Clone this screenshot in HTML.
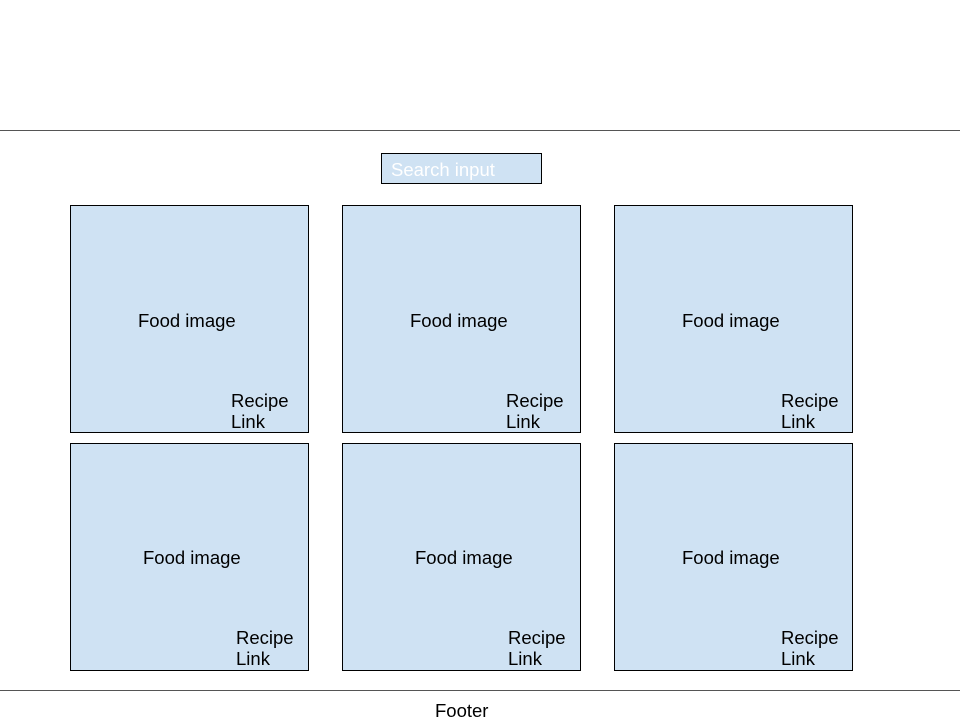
<!DOCTYPE html>
<html><head><meta charset="utf-8"><style>
body{margin:0;width:960px;height:720px;background:#fff;position:relative;overflow:hidden;font-family:"Liberation Sans",Arial,sans-serif;}
.abs{position:absolute;}
.hr{position:absolute;left:0;width:960px;height:1px;background:#555;}
.card{position:absolute;width:237px;height:226px;background:#cfe2f3;border:1px solid #000;}
.t{position:absolute;font-size:18.5px;color:#000;line-height:21px;white-space:nowrap;}
</style></head><body>
<div class="hr" style="top:130px"></div>
<div class="abs" style="left:381px;top:153px;width:159px;height:29px;background:#cfe2f3;border:1px solid #000;">
<span class="t" style="left:9px;top:5px;color:#fff;">Search input</span></div>

<div class="card" style="left:70px;top:205px"><span class="t" style="left:67px;top:104px">Food image</span><span class="t" style="left:160px;top:184px">Recipe<br>Link</span></div>
<div class="card" style="left:342px;top:205px"><span class="t" style="left:67px;top:104px">Food image</span><span class="t" style="left:163px;top:184px">Recipe<br>Link</span></div>
<div class="card" style="left:614px;top:205px"><span class="t" style="left:67px;top:104px">Food image</span><span class="t" style="left:166px;top:184px">Recipe<br>Link</span></div>
<div class="card" style="left:70px;top:443px"><span class="t" style="left:72px;top:103px">Food image</span><span class="t" style="left:165px;top:183px">Recipe<br>Link</span></div>
<div class="card" style="left:342px;top:443px"><span class="t" style="left:72px;top:103px">Food image</span><span class="t" style="left:165px;top:183px">Recipe<br>Link</span></div>
<div class="card" style="left:614px;top:443px"><span class="t" style="left:67px;top:103px">Food image</span><span class="t" style="left:166px;top:183px">Recipe<br>Link</span></div>

<div class="hr" style="top:690px"></div>
<span class="t" style="left:435px;top:700px">Footer</span>
</body></html>
